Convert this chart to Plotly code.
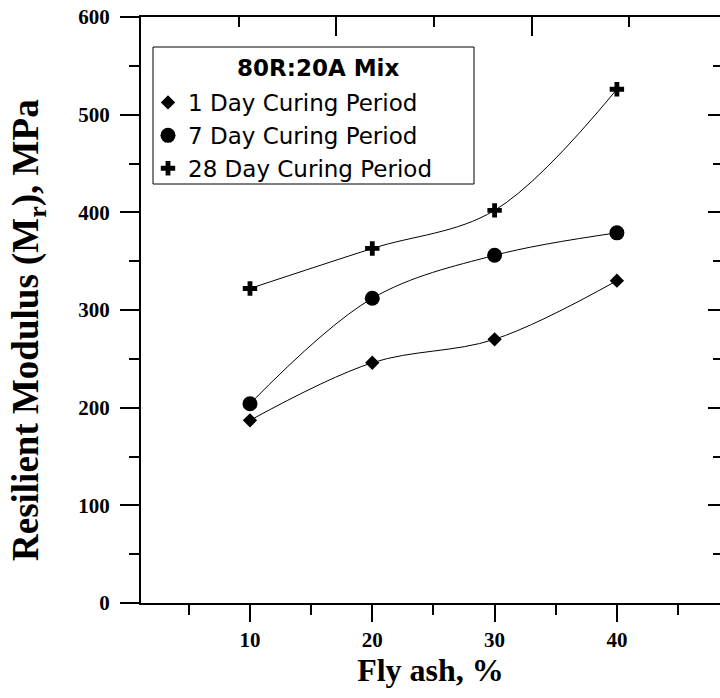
import plotly.graph_objects as go

fly_ash = [10, 20, 30, 40]
day1 = [187, 246, 270, 330]
day7 = [204, 312, 356, 379]
day28 = [322, 363, 402, 526]

series_names = ["1 Day Curing Period", "7 Day Curing Period", "28 Day Curing Period"]
legend_title = "80R:20A Mix"
x_title = "Fly ash, %"
y_title = "Resilient Modulus (M<sub>r</sub>), MPa"

W, H = 720, 698
L, T = 141, 17
PW = 720 - 141
PH = 603 - 17
R = W - L - PW
B = H - T - PH

def px_x(p):
    return (p - L) / PW

def px_y(p):
    return (T + PH - p) / PH

fig = go.Figure()
symbols = ["diamond", "circle", "cross"]
sizes = [11, 15, 12]
for vals in [day1, day7, day28]:
    fig.add_trace(go.Scatter(x=fly_ash, y=vals, mode="lines", showlegend=False,
                             line=dict(color="black", width=1, shape="spline", smoothing=1),
                             hoverinfo="skip"))
for vals, name, sym, sz in zip([day1, day7, day28], series_names, symbols, sizes):
    fig.add_trace(go.Scatter(x=fly_ash, y=vals, mode="markers", name=name,
                             marker=dict(symbol=sym, size=sz, color="black",
                                         line=dict(width=0))))
# helper trace so the top/right companion axes are drawn
fig.add_trace(go.Scatter(x=[], y=[], xaxis="x2", yaxis="y2", showlegend=False))

tick_font = dict(family="Liberation Serif", size=21, color="black", weight="bold")

fig.update_layout(
    width=W, height=H,
    margin=dict(l=L, r=R, t=T, b=B, pad=0, autoexpand=False),
    paper_bgcolor="white", plot_bgcolor="white",
    xaxis=dict(range=[1.09, 48.43], tick0=0, dtick=10, ticks="outside", ticklen=17,
               tickwidth=2, tickcolor="black", showline=True, linewidth=2,
               linecolor="black", showgrid=False, zeroline=False, automargin=False,
               minor=dict(dtick=5, tick0=0, ticks="outside", ticklen=10,
                          tickwidth=2, tickcolor="black", showgrid=False),
               tickfont=tick_font, ticklabelstandoff=0, ticklabeloverflow="allow",
               title=dict(text=x_title, standoff=6,
                          font=dict(family="Liberation Serif", size=32,
                                    color="black", weight="bold"))),
    yaxis=dict(range=[0, 600], tick0=0, dtick=100, ticks="outside", ticklen=19,
               tickwidth=2, tickcolor="black", showline=True, linewidth=2,
               linecolor="black", showgrid=False, zeroline=False, automargin=False,
               minor=dict(dtick=50, tick0=0, ticks="outside", ticklen=10,
                          tickwidth=2, tickcolor="black", showgrid=False),
               tickfont=tick_font, ticklabelstandoff=6, ticklabeloverflow="allow"),
    xaxis2=dict(overlaying="x", side="top", anchor="y", range=[0, PW / (PH / 600)],
                tickvals=[200, 400], ticks="inside", ticklen=19, tickwidth=2,
                tickcolor="black", showline=True, linewidth=2, linecolor="black",
                showticklabels=False, showgrid=False, zeroline=False,
                minor=dict(tickvals=[100, 300, 500], ticks="inside", ticklen=10,
                           tickwidth=2, tickcolor="black", showgrid=False)),
    yaxis2=dict(overlaying="y", side="right", anchor="x", range=[0, 600],
                tick0=0, dtick=100, ticks="inside", ticklen=12, tickwidth=2,
                tickcolor="black", showline=False, showticklabels=False,
                showgrid=False, zeroline=False,
                minor=dict(dtick=50, tick0=0, ticks="inside", ticklen=7,
                           tickwidth=2, tickcolor="black", showgrid=False)),
    legend=dict(x=px_x(148), y=px_y(81), xanchor="left", yanchor="top",
                bgcolor="rgba(0,0,0,0)", borderwidth=0, tracegroupgap=0,
                font=dict(family="DejaVu Sans", size=23, color="black")),
    shapes=[dict(type="rect", xref="paper", yref="paper",
                 x0=px_x(153), x1=px_x(474), y0=px_y(184), y1=px_y(47),
                 line=dict(color="black", width=1), fillcolor="white", layer="above")],
    annotations=[
        dict(text="<b>" + legend_title + "</b>", xref="paper", yref="paper",
             x=px_x(318), y=px_y(68), xanchor="center", yanchor="middle",
             showarrow=False,
             font=dict(family="DejaVu Sans", size=23, color="black")),
        dict(text=y_title, xref="paper", yref="paper", x=px_x(28), y=px_y(330),
             xanchor="center", yanchor="middle", textangle=-90, showarrow=False,
             font=dict(family="Liberation Serif", size=37, color="black", weight="bold")),
    ],
)

fig.write_html("out.html", config={"displayModeBar": False},
               post_script="document.body.style.margin='0';document.body.style.padding='0';")
